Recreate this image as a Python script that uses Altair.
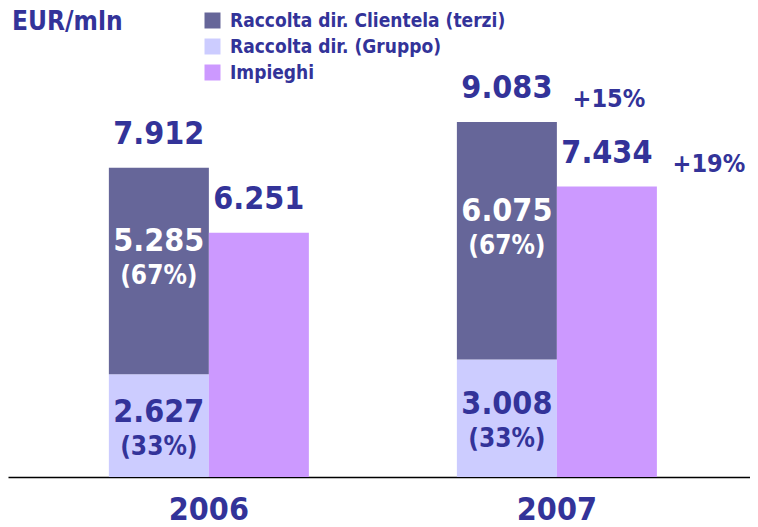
import altair as alt
import pandas as pd

years = ["2006", "2007"]
clientela = [5285, 6075]
gruppo = [2627, 3008]
impieghi = [6251, 7434]
totals = [7912, 9083]
pct_clientela = ["(67%)", "(67%)"]
pct_gruppo = ["(33%)", "(33%)"]
growth_raccolta = ["", "+15%"]
growth_impieghi = ["", "+19%"]

series_names = ["Raccolta dir. Clientela (terzi)", "Raccolta dir. (Gruppo)", "Impieghi"]
series_colors = ["#666699", "#CCCCFF", "#CC99FF"]
TXT = "#333399"
FONT = "DejaVu Sans Condensed, Liberation Sans, DejaVu Sans"


def it(v):
    return f"{v:,}".replace(",", ".")


rows = []
for i, y in enumerate(years):
    rows.append(dict(year=y, grp="Raccolta", series=series_names[1], value=gruppo[i], ord=1))
    rows.append(dict(year=y, grp="Raccolta", series=series_names[0], value=clientela[i], ord=2))
    rows.append(dict(year=y, grp="Impieghi", series=series_names[2], value=impieghi[i], ord=1))
bars_df = pd.DataFrame(rows)

lab = []
for i, y in enumerate(years):
    lab.append(dict(year=y, grp="Raccolta", kind="top_num", pos=gruppo[i] + clientela[i] / 2, text=it(clientela[i])))
    lab.append(dict(year=y, grp="Raccolta", kind="top_pct", pos=gruppo[i] + clientela[i] / 2, text=pct_clientela[i]))
    lab.append(dict(year=y, grp="Raccolta", kind="bot_num", pos=gruppo[i] / 2, text=it(gruppo[i])))
    lab.append(dict(year=y, grp="Raccolta", kind="bot_pct", pos=gruppo[i] / 2, text=pct_gruppo[i]))
    lab.append(dict(year=y, grp="Raccolta", kind="total", pos=totals[i], text=it(totals[i])))
    lab.append(dict(year=y, grp="Impieghi", kind="total", pos=impieghi[i], text=it(impieghi[i])))
    lab.append(dict(year=y, grp="Raccolta", kind="growth", pos=totals[i], text=growth_raccolta[i]))
    lab.append(dict(year=y, grp="Impieghi", kind="growth", pos=impieghi[i], text=growth_impieghi[i]))
lab_df = pd.DataFrame(lab)

W, H = 742, 465
YMAX = 11900
xs = alt.X("year:N", scale=alt.Scale(domain=years, paddingInner=0.4253, paddingOuter=0.2787, align=0.52),
           axis=alt.Axis(title=None, ticks=False, labelAngle=0, labelFont=FONT,
                         labelFontSize=32, labelFontWeight="bold", labelColor=TXT, labelPadding=17,
                         domainColor="#000000", domainWidth=1.5))
xo = alt.XOffset("grp:N", scale=alt.Scale(domain=["Raccolta", "Impieghi"], paddingInner=0, paddingOuter=0))
ys = alt.Y("pos:Q", scale=alt.Scale(domain=[0, YMAX], nice=False), axis=None)

bars = alt.Chart(bars_df).mark_bar().encode(
    x=xs,
    xOffset=xo,
    y=alt.Y("value:Q", stack="zero", scale=alt.Scale(domain=[0, YMAX], nice=False), axis=None),
    color=alt.Color("series:N", scale=alt.Scale(domain=series_names, range=series_colors),
                    legend=alt.Legend(title=None, orient="none", legendX=195, legendY=-1,
                                      symbolType="square", symbolSize=256, symbolStrokeWidth=0,
                                      symbolOpacity=1, labelFont=FONT, labelFontSize=19,
                                      labelFontWeight="bold", labelColor=TXT, rowPadding=6,
                                      padding=0, labelOffset=8, labelLimit=0)),
    order=alt.Order("ord:Q", sort="ascending"),
)


def text_layer(kind, size, color, dy, dx=0):
    return alt.Chart(lab_df).transform_filter(alt.datum.kind == kind).mark_text(
        font=FONT, fontSize=size, fontWeight="bold", color=color, dy=dy, dx=dx, baseline="middle"
    ).encode(x=xs, xOffset=xo, y=ys, text="text:N")


layers = [
    bars,
    text_layer("top_num", 32, "white", -30),
    text_layer("top_pct", 26, "white", 5),
    text_layer("bot_num", 32, TXT, -14),
    text_layer("bot_pct", 26, TXT, 21),
    text_layer("total", 32, TXT, -34),
    text_layer("growth", 25, TXT, -23, 102),
]

unit = alt.Chart(pd.DataFrame({"t": ["EUR/mln"]})).mark_text(
    font=FONT, fontSize=26, fontWeight="bold", color=TXT, align="left", baseline="middle"
).encode(x=alt.value(4), y=alt.value(10), text="t:N")

chart = alt.layer(*layers, unit).properties(
    width=W, height=H, autosize=alt.AutoSizeParams(type="none"),
    padding={"left": 0, "top": 4, "right": 0, "bottom": 50},
).configure_view(stroke=None).configure_axis(grid=False)

chart.save("out.html", embed_options={"renderer": "svg", "actions": False})
